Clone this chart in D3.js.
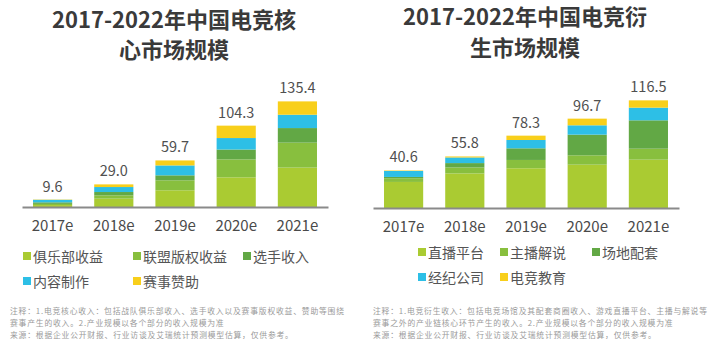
<!DOCTYPE html>
<html><head><meta charset="utf-8">
<script src="https://cdn.jsdelivr.net/npm/d3@7"></script>
<style>body{margin:0;background:#fff}svg{display:block}text{font-family:"Noto Sans CJK SC","Noto Sans",sans-serif}</style>
</head><body><svg id="c" width="720" height="339"></svg>
<script>
const years = ["2017e","2018e","2019e","2020e","2021e"];
// Left chart: core market
const coreSeries = ["俱乐部收益","联盟版权收益","选手收入","内容制作","赛事赞助"];
const coreClub    = [2.5, 10.7, 21.4, 38.0, 50.5];
const coreLeague  = [1.5, 4.2, 12.8, 23.0, 32.0];
const corePlayer  = [2.0, 4.3, 6.4, 12.7, 18.7];
const coreContent = [3.2, 6.4, 12.7, 14.7, 17.1];
const coreSponsor = [0.4, 3.4, 6.4, 15.9, 17.1];
const coreTotals  = ["9.6","29.0","59.7","104.3","135.4"];
// Right chart: derivative market
const derSeries = ["直播平台","主播解说","场地配套","经纪公司","电竞教育"];
const derLive    = [28.2, 37.4, 43.0, 46.9, 52.3];
const derHost    = [4.0, 6.5, 9.0, 10.1, 11.9];
const derVenue   = [1.4, 4.7, 12.6, 22.4, 30.7];
const derAgency  = [6.5, 6.1, 9.0, 10.1, 13.7];
const derEdu     = [0.5, 1.1, 4.7, 7.2, 7.9];
const derTotals  = ["40.6","55.8","78.3","96.7","116.5"];

const colors = ["#aacb32","#88bf3e","#62a845","#2dbfe6","#f8cf1b"];

const svg = d3.select("#c");

function drawChart(cfg){
  const g = svg.append("g");
  cfg.title.forEach((t,i)=>{
    g.append("text").attr("x",cfg.titleX).attr("y",cfg.titleY[i]).attr("text-anchor","middle")
      .attr("font-size",22).attr("font-weight","bold").attr("fill","#3a3a3a").text(t);
  });
  const x = d3.scaleBand().domain(years).range(cfg.xRange).paddingInner(0.36).paddingOuter(0.18);
  const y = d3.scaleLinear().domain([0, cfg.yMax]).range([cfg.base, cfg.base - cfg.yMax*cfg.ppu]);
  const rows = years.map((yr,i)=>{const o={year:yr}; cfg.series.forEach((s,k)=>o[s]=cfg.values[k][i]); return o;});
  const stack = d3.stack().keys(cfg.series)(rows);
  g.selectAll("g.layer").data(stack).join("g").attr("class","layer").attr("fill",(d,i)=>colors[i])
    .selectAll("rect").data(d=>d).join("rect")
    .attr("x",d=>x(d.data.year)).attr("width",x.bandwidth())
    .attr("y",d=>y(d[1])).attr("height",d=>y(d[0])-y(d[1]));
  const sums = rows.map(r=>d3.sum(cfg.series,s=>r[s]));
  g.selectAll("text.tot").data(years).join("text").attr("class","tot")
    .attr("x",d=>x(d)+x.bandwidth()/2).attr("y",(d,i)=>y(sums[i])-8)
    .attr("text-anchor","middle").attr("font-size",14.5).attr("fill","#505050")
    .text((d,i)=>cfg.totals[i]);
  const ax = g.append("g").attr("transform",`translate(0,${cfg.base})`)
    .call(d3.axisBottom(x).tickSize(0).tickPadding(13));
  ax.select(".domain").attr("stroke","#8a8a8a").attr("stroke-width",2);
  ax.selectAll("text").attr("font-size",15).attr("fill","#4a4a4a")
    .style("font-family","'Noto Sans CJK SC','Noto Sans',sans-serif");
  cfg.series.forEach((s,i)=>{
    const col = i%3, row = Math.floor(i/3);
    const lx = cfg.legX[col], ly = cfg.legY[row];
    g.append("rect").attr("x",lx).attr("y",ly-5).attr("width",8).attr("height",8).attr("fill",colors[i]);
    g.append("text").attr("x",lx+10).attr("y",ly+5).attr("font-size",14).attr("fill","#555").text(s);
  });
  cfg.notes.forEach((t,i)=>{
    g.append("text").attr("x",cfg.noteX).attr("y",cfg.noteY[i]).attr("font-size",7.8)
      .attr("letter-spacing",0.8).attr("fill","#9a9a9a").text(t);
  });
}

drawChart({
  title:["2017-2022年中国电竞核","心市场规模"], titleX:174, titleY:[28,58],
  series:coreSeries, values:[coreClub,coreLeague,corePlayer,coreContent,coreSponsor], totals:coreTotals,
  xRange:[22,328], base:207, yMax:140, ppu:0.78,
  legX:[23,133,243], legY:[257,282],
  notes:["注释：1.电竞核心收入：包括战队俱乐部收入、选手收入以及赛事版权收益、赞助等围绕",
         "赛事产生的收入。2.产业规模以各个部分的收入规模为准",
         "来源：根据企业公开财报、行业访谈及艾瑞统计预测模型估算，仅供参考。"],
  noteX:10, noteY:[314,326,338]
});
drawChart({
  title:["2017-2022年中国电竞衍","生市场规模"], titleX:525, titleY:[25,56],
  series:derSeries, values:[derLive,derHost,derVenue,derAgency,derEdu], totals:derTotals,
  xRange:[373,679], base:208, yMax:120, ppu:0.924,
  legX:[418,500,592], legY:[253,278],
  notes:["注释：1.电竞衍生收入：包括电竞场馆及其配套商圈收入、游戏直播平台、主播与解说等",
         "赛事之外的产业链核心环节产生的收入。2.产业规模以各个部分的收入规模为准",
         "来源：根据企业公开财报、行业访谈及艾瑞统计预测模型估算，仅供参考。"],
  noteX:373, noteY:[314,326,338]
});
</script></body></html>
